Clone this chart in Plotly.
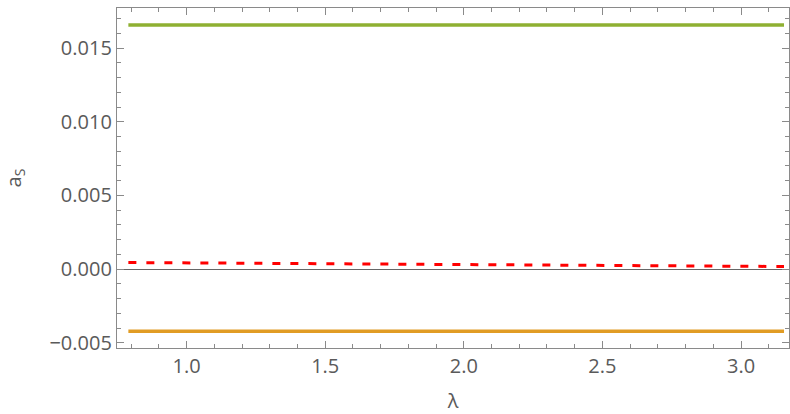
import numpy as np
import plotly.graph_objects as go

# data
lam = [0.79, 1.0, 1.25, 1.5, 1.75, 2.0, 2.25, 2.5, 2.75, 3.0, 3.155]
green_vals = [0.01656] * 11
orange_vals = [-0.00421] * 11
red_vals = [0.00045, 0.00043, 0.00040, 0.00037, 0.00034, 0.00031, 0.00028, 0.00025, 0.00022, 0.00020, 0.00018]

x_ticks = [1.0, 1.5, 2.0, 2.5, 3.0]
x_ticklabels = ["1.0", "1.5", "2.0", "2.5", "3.0"]
y_ticks = [-0.005, 0.0, 0.005, 0.010, 0.015]
y_ticklabels = ["\u22120.005", "0.000", "0.005", "0.010", "0.015"]

fig = go.Figure()
fig.add_trace(go.Scatter(x=lam, y=green_vals, mode="lines",
                         line=dict(color="#8FB032", width=3.5), showlegend=False))
fig.add_trace(go.Scatter(x=lam, y=orange_vals, mode="lines",
                         line=dict(color="#E19C24", width=3.5), showlegend=False))
fig.add_trace(go.Scatter(x=lam, y=red_vals, mode="lines",
                         line=dict(color="#FF0000", width=3, dash="8px,10px"), showlegend=False))

axis_common = dict(
    showgrid=False, showline=True, linecolor="#8a8a8a", linewidth=1.3,
    mirror="allticks", ticks="inside", tickcolor="#8a8a8a", tickwidth=1,
    ticklen=7, automargin=False,
    tickfont=dict(family="Open Sans, Arial, sans-serif", size=20, color="#5a5a5a"),
)

fig.update_xaxes(
    range=[0.749, 3.173], tickvals=x_ticks, ticktext=x_ticklabels,
    minor=dict(dtick=0.1, tick0=0.0, ticks="inside", ticklen=4, tickcolor="#8a8a8a", tickwidth=1),
    zeroline=False,
    title=dict(text="\u03bb", font=dict(family="Open Sans, Arial, sans-serif", size=20, color="#5a5a5a"), standoff=20),
    **axis_common,
)
fig.update_yaxes(
    range=[-0.00535, 0.01772], tickvals=y_ticks, ticktext=y_ticklabels,
    minor=dict(dtick=0.001, tick0=0.0, ticks="inside", ticklen=4, tickcolor="#8a8a8a", tickwidth=1),
    zeroline=True, zerolinecolor="#666666", zerolinewidth=1,
    title=dict(text="a<sub>S</sub>", font=dict(family="Open Sans, Arial, sans-serif", size=20, color="#5a5a5a"), standoff=27),
    **axis_common,
)

fig.update_layout(
    width=790, height=414,
    margin=dict(l=117, r=1, t=8, b=66),
    paper_bgcolor="white", plot_bgcolor="white",
)

fig.write_html("out.html", config={"displayModeBar": False},
               post_script="document.body.style.margin='0';document.body.style.overflow='hidden';")
